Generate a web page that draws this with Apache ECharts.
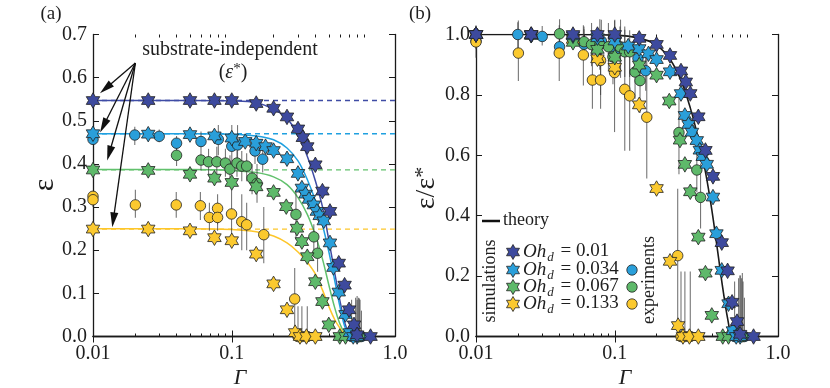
<!DOCTYPE html>
<html><head><meta charset="utf-8">
<script src="https://cdn.jsdelivr.net/npm/echarts@6/dist/echarts.min.js"></script>
<style>html,body{margin:0;padding:0;background:#fff}#c{width:830px;height:388px}</style>
</head><body><div id="c"></div><script>
// ---------------- DATA ----------------
const xTickLabels = ['0.01', '0.1', '1.0'];
const xMajorTicks = [0.01, 0.1, 1];
const xMinorTicks = [0.02,0.03,0.04,0.05,0.06,0.07,0.08,0.09,0.2,0.3,0.4,0.5,0.6,0.7,0.8,0.9];
const ohLabels = ['0.01', '0.034', '0.067', '0.133'];

// substrate-independent plateau values eps* (simulations) and experiments
const epsStarSim = [0.547, 0.470, 0.386, 0.249];
const epsStarExp = [0.467, 0.419, 0.325];   // Oh 0.034, 0.067, 0.133

// simulations (stars)
const simG1 = [0.01,0.025,0.05,0.075,0.1,0.15,0.2,0.25,0.3,0.325,0.35,0.4,0.45,0.51,0.59,0.65,0.7,0.76,0.8,1.0];
const simE1 = [0.547,0.547,0.547,0.547,0.547,0.540,0.529,0.509,0.481,0.461,0.440,0.398,0.337,0.290,0.170,0.119,0.062,0.027,0.004,0.0];
const simG2 = [0.01,0.025,0.05,0.075,0.1,0.125,0.15,0.175,0.2,0.25,0.3,0.32,0.34,0.36,0.39,0.41,0.43,0.46,0.51,0.54,0.59,0.66,0.71,0.75,0.8];
const simE2 = [0.470,0.469,0.468,0.465,0.460,0.452,0.448,0.440,0.431,0.412,0.378,0.344,0.330,0.318,0.305,0.290,0.280,0.268,0.217,0.160,0.103,0.051,0.009,0.0,0.0];
const simG3 = [0.01,0.025,0.05,0.075,0.1,0.15,0.2,0.247,0.295,0.32,0.35,0.4,0.45,0.5,0.6,0.66];
const simE3 = [0.386,0.385,0.376,0.367,0.357,0.347,0.334,0.301,0.251,0.220,0.185,0.127,0.081,0.027,0.0,0.0];
const simG4 = [0.01,0.025,0.05,0.075,0.1,0.15,0.2,0.25,0.286,0.31,0.345,0.4];
const simE4 = [0.249,0.249,0.245,0.229,0.222,0.191,0.122,0.062,0.009,0.0,0.0,0.0];

// experiments (circles) with error bar bounds
const expG2 = [0.01,0.02,0.03,0.04,0.06,0.08,0.1,0.11,0.147,0.167,0.73,0.78,0.8,0.82,0.84,0.86];
const expE2 = [0.457,0.467,0.464,0.448,0.452,0.457,0.441,0.444,0.430,0.411,0,0,0,0,0,0];
const expL2 = [0.445,0.444,0.450,0.430,0.430,0.420,0.400,0.400,0.400,0.380,0,0,0,0,0,0];
const expH2 = [0.470,0.486,0.480,0.465,0.475,0.490,0.490,0.490,0.460,0.440,0.085,0.090,0.094,0.090,0.085,0.060];
const expG3 = [0.04,0.06,0.068,0.078,0.09,0.097,0.109,0.118,0.128,0.14,0.152,0.29,0.39,0.415,0.8,0.83];
const expE3 = [0.420,0.409,0.405,0.405,0.402,0.388,0.402,0.395,0.395,0.367,0.355,0.283,0.231,0.193,0,0];
const expL3 = [0.395,0.385,0.375,0.370,0.370,0.350,0.370,0.360,0.360,0.330,0.310,0.225,0.200,0.150,0,0];
const expH3 = [0.440,0.430,0.435,0.440,0.435,0.420,0.430,0.430,0.425,0.400,0.400,0.340,0.260,0.240,0.085,0.088];
const expG4 = [0.01,0.01,0.0202,0.0398,0.0594,0.069,0.079,0.079,0.0996,0.118,0.128,0.17,0.284,0.3,0.32,0.35];
const expE4 = [0.325,0.317,0.305,0.305,0.303,0.276,0.297,0.276,0.284,0.266,0.259,0.236,0.087,0,0,0];
const expL4 = [0.310,0.300,0.275,0.275,0.270,0.245,0.260,0.245,0.220,0.200,0.200,0.170,0.0,0,0,0];
const expH4 = [0.335,0.330,0.340,0.335,0.335,0.310,0.330,0.310,0.340,0.330,0.310,0.300,0.159,0.070,0.070,0.070];

// theory curves
const fitG  = [0.01,0.05,0.1,0.15,0.2,0.25,0.3,0.35,0.4,0.45,0.5,0.55,0.6,0.65,0.7,0.72];
const fitE1 = [0.547,0.547,0.546,0.542,0.527,0.505,0.468,0.418,0.361,0.301,0.224,0.150,0.085,0.033,0.005,0];
const fitE2 = [0.470,0.470,0.469,0.465,0.456,0.437,0.407,0.364,0.315,0.259,0.197,0.132,0.071,0.024,0.002,0];
const fitE3 = [0.387,0.387,0.385,0.380,0.370,0.352,0.322,0.283,0.235,0.180,0.120,0.068,0.030,0.008,0.001,0];
const fitE4 = [0.250,0.250,0.248,0.243,0.233,0.217,0.196,0.172,0.145,0.108,0.070,0.040,0.020,0.006,0.001,0];
const theoryR = [1,1,0.998,0.988,0.965,0.918,0.848,0.757,0.655,0.545,0.420,0.285,0.160,0.060,0.0,0.0];

// ---------------- STYLE ----------------
const FONT = 'Liberation Serif';
const TXT = '#1e1e1e';
const AX = '#1a1a1a';
const XMIN = 0.01, XMAX = 1.5;
const markColors = ['#3d4a9e','#2a9fda','#5eb96a','#fbc92f'];
const lineColors = ['#3f4ca5','#1fa0e0','#62c16d','#fdc62a'];
const STAR_PTS = [[0,-100],[28.87,-50],[86.6,-50],[57.74,0],[86.6,50],[28.87,50],[0,100],[-28.87,50],[-86.6,50],[-57.74,0],[-86.6,-50],[-28.87,-50]];
const STAR = 'path://M' + STAR_PTS.map(p => p.join(',')).join('L') + 'Z';
const STAR_SIZE = [13.5, 15.5];
const CIRC_SIZE = 10.5;

const simG = [simG1, simG2, simG3, simG4], simE = [simE1, simE2, simE3, simE4];
const expG = [expG2, expG3, expG4], expE = [expE2, expE3, expE4], expL = [expL2, expL3, expL4], expH = [expH2, expH3, expH4];
const fitE = [fitE1, fitE2, fitE3, fitE4];

const pairs = (xs, ys, s) => xs.map((x, i) => [x, ys[i] / (s || 1)]);
const labelVals = [0.01, 0.1, XMAX * 0.999];

function xAxesFor(grid) {
  const base = {type: 'log', logBase: 10, gridIndex: grid, min: XMIN, max: XMAX,
    splitLine: {show: false}, minorTick: {show: false}, minorSplitLine: {show: false}};
  return [
    Object.assign({}, base, {position: 'bottom',
      axisLine: {show: true, lineStyle: {color: AX, width: 1.3}},
      axisTick: {show: true, inside: true, length: 6, lineStyle: {color: AX, width: 1}, customValues: xMajorTicks},
      axisLabel: {show: true, customValues: labelVals, color: TXT, fontFamily: FONT, fontSize: 20, margin: 7,
        formatter: v => xTickLabels[v < 0.05 ? 0 : (v < 0.5 ? 1 : 2)]}}),
    Object.assign({}, base, {position: 'top',
      axisLine: {show: true, lineStyle: {color: AX, width: 1.3}},
      axisTick: {show: true, inside: true, length: 6, lineStyle: {color: AX, width: 1}, customValues: xMajorTicks},
      axisLabel: {show: false}}),
    Object.assign({}, base, {position: 'bottom', axisLine: {show: false},
      axisTick: {show: true, inside: true, length: 3, lineStyle: {color: AX, width: 1}, customValues: xMinorTicks},
      axisLabel: {show: false}}),
    Object.assign({}, base, {position: 'top', axisLine: {show: false},
      axisTick: {show: true, inside: true, length: 3, lineStyle: {color: AX, width: 1}, customValues: xMinorTicks},
      axisLabel: {show: false}})
  ];
}
function yAxesFor(grid, max, interval) {
  const base = {type: 'value', gridIndex: grid, min: 0, max: max, interval: interval, splitLine: {show: false}};
  return [
    Object.assign({}, base, {position: 'left',
      axisLine: {show: true, lineStyle: {color: AX, width: 1.3}},
      axisTick: {show: true, inside: true, length: 6, lineStyle: {color: AX, width: 1}},
      axisLabel: {show: true, color: TXT, fontFamily: FONT, fontSize: 20, margin: 6, formatter: v => v.toFixed(1)}}),
    Object.assign({}, base, {position: 'right',
      axisLine: {show: true, lineStyle: {color: AX, width: 1.3}},
      axisTick: {show: true, inside: true, length: 6, lineStyle: {color: AX, width: 1}},
      axisLabel: {show: false}})
  ];
}

function errbar(data, xi, yi) {
  return {type: 'custom', xAxisIndex: xi, yAxisIndex: yi, data: data, silent: true, z: 3, clip: false,
    encode: {x: 0, y: [1, 2]},
    renderItem: function (params, api) {
      const a = api.coord([api.value(0), api.value(1)]);
      const b = api.coord([api.value(0), api.value(2)]);
      return {type: 'line', shape: {x1: a[0], y1: a[1], x2: b[0], y2: b[1]},
        style: {stroke: 'rgba(60,60,60,0.7)', lineWidth: 1.1}};
    }};
}

const series = [];
[{x: 0, y: 0, norm: false}, {x: 4, y: 2, norm: true}].forEach(p => {
  if (!p.norm) {
    epsStarSim.forEach((s, i) => series.push({type: 'line', xAxisIndex: p.x, yAxisIndex: p.y,
      data: [[XMIN, s], [XMAX, s]], symbol: 'none', silent: true, z: 2,
      lineStyle: {color: lineColors[i], width: 1.3, type: [5, 4]}}));
    fitE.forEach((arr, i) => series.push({type: 'line', xAxisIndex: p.x, yAxisIndex: p.y,
      data: pairs(fitG, arr), smooth: 0.35, symbol: 'none', silent: true, z: 2,
      lineStyle: {color: lineColors[i], width: 1.5}}));
  } else {
    series.push({type: 'line', xAxisIndex: p.x, yAxisIndex: p.y, data: pairs(fitG, theoryR),
      smooth: 0.35, symbol: 'none', silent: true, z: 2, lineStyle: {color: '#1a1a1a', width: 1.6}});
  }
  expG.forEach((g, i) => {
    const s = p.norm ? epsStarExp[i] : 1;
    series.push(errbar(g.map((x, k) => [x, expL[i][k] / s, expH[i][k] / s]), p.x, p.y));
  });
  expG.forEach((g, i) => {
    const s = p.norm ? epsStarExp[i] : 1;
    series.push({type: 'scatter', xAxisIndex: p.x, yAxisIndex: p.y, data: pairs(g, expE[i], s),
      symbol: 'circle', symbolSize: CIRC_SIZE, clip: false, silent: true, z: 4,
      itemStyle: {color: markColors[i + 1], borderColor: '#222', borderWidth: 0.8, opacity: 1}});
  });
  [3, 2, 1, 0].forEach(i => {
    const s = p.norm ? epsStarSim[i] : 1;
    series.push({type: 'scatter', xAxisIndex: p.x, yAxisIndex: p.y, data: pairs(simG[i], simE[i], s),
      symbol: STAR, symbolSize: STAR_SIZE, clip: false, silent: true, z: 5,
      itemStyle: {color: markColors[i], borderColor: '#222', borderWidth: 0.8, opacity: 1}});
  });
});

// annotation arrows (left panel), in data coordinates
const arrowFrom = [0.0202, 0.634];
const arrowTo = [[0.01233, 0.575], [0.0119, 0.4885], [0.01309, 0.4248], [0.01401, 0.2703]];
series.push({type: 'line', xAxisIndex: 0, yAxisIndex: 0, data: [], silent: true, z: 6,
  markLine: {silent: true, animation: false, symbol: ['none', 'triangle'], symbolSize: [8, 15],
    label: {show: false}, lineStyle: {color: '#111', width: 1.3, type: 'solid'},
    data: arrowTo.map(t => [{coord: arrowFrom}, {coord: t}])}});

// legend / labels as graphics
const rich = {
  i: {fontFamily: FONT, fontStyle: 'italic', fontSize: 19, lineHeight: 20, verticalAlign: 'top', fill: TXT},
  s: {fontFamily: FONT, fontStyle: 'italic', fontSize: 13, lineHeight: 14, padding: [9, 2, 0, 1], verticalAlign: 'top', fill: TXT},
  n: {fontFamily: FONT, fontSize: 19, lineHeight: 20, verticalAlign: 'top', fill: TXT}
};
const rowY = [252, 270, 287, 304];
const graphics = [
  {type: 'text', x: 51, y: 14, style: {text: '(a)', font: '19px ' + FONT, fill: TXT, align: 'center', verticalAlign: 'middle'}},
  {type: 'text', x: 420, y: 14, style: {text: '(b)', font: '19px ' + FONT, fill: TXT, align: 'center', verticalAlign: 'middle'}},
  {type: 'text', x: 45, y: 185, rotation: Math.PI / 2, style: {text: 'ε', font: '30px ' + FONT, fill: TXT, align: 'center', verticalAlign: 'middle'}},
  {type: 'text', x: 427, y: 188, rotation: Math.PI / 2, style: {text: 'ε/ε{u|*}', font: '28px ' + FONT, fill: TXT, align: 'center', verticalAlign: 'middle',
    rich: {u: {font: '22px ' + FONT, verticalAlign: 'top', padding: [0, 0, 8, 0]}}}},
  {type: 'text', x: 240, y: 378, style: {text: 'Γ', font: 'italic 22px ' + FONT, fill: TXT, align: 'center', verticalAlign: 'middle'}},
  {type: 'text', x: 625, y: 378, style: {text: 'Γ', font: 'italic 22px ' + FONT, fill: TXT, align: 'center', verticalAlign: 'middle'}},
  {type: 'text', x: 230, y: 50, style: {text: 'substrate-independent', font: '20px ' + FONT, fill: TXT, align: 'center', verticalAlign: 'middle'}},
  {type: 'text', x: 233, y: 73, style: {text: '({e|ε}{u|*})', font: '20px ' + FONT, fill: TXT, align: 'center', verticalAlign: 'middle',
    rich: {e: {font: 'italic 20px ' + FONT}, u: {font: '15px ' + FONT, padding: [0, 0, 8, 0]}}}},
  {type: 'line', shape: {x1: 482, y1: 221, x2: 500, y2: 221}, style: {stroke: '#111', lineWidth: 2.5}},
  {type: 'text', x: 503, y: 220, style: {text: 'theory', font: '18px ' + FONT, fill: TXT, align: 'left', verticalAlign: 'middle'}},
  {type: 'text', x: 490, y: 281, rotation: Math.PI / 2, style: {text: 'simulations', font: '18px ' + FONT, fill: TXT, align: 'center', verticalAlign: 'middle'}},
  {type: 'text', x: 649, y: 280, rotation: Math.PI / 2, style: {text: 'experiments', font: '18px ' + FONT, fill: TXT, align: 'center', verticalAlign: 'middle'}}
];
ohLabels.forEach((lab, i) => {
  graphics.push({type: 'polygon', x: 513, y: rowY[i],
    shape: {points: STAR_PTS.map(p => [p[0] * 0.075, p[1] * 0.075])},
    style: {fill: markColors[i], stroke: '#222', lineWidth: 0.8}});
  graphics.push({type: 'text', x: 523, y: rowY[i] - 10, style: {text: '{i|Oh}{s|d}{n| = ' + lab + '}', rich: rich, align: 'left', verticalAlign: 'top'}});
  if (i > 0) graphics.push({type: 'circle', shape: {cx: 632, cy: rowY[i], r: 5.2},
    style: {fill: markColors[i], stroke: '#222', lineWidth: 0.8}});
});

const chart = echarts.init(document.getElementById('c'), null, {renderer: 'canvas'});
chart.setOption({
  animation: false,
  backgroundColor: '#fff',
  grid: [{left: 93, top: 34.5, width: 302, height: 302}, {left: 476, top: 34.5, width: 302, height: 302}],
  xAxis: xAxesFor(0).concat(xAxesFor(1)),
  yAxis: yAxesFor(0, 0.7, 0.1).concat(yAxesFor(1, 1.0, 0.2)),
  series: series,
  graphic: graphics
});
</script></body></html>
